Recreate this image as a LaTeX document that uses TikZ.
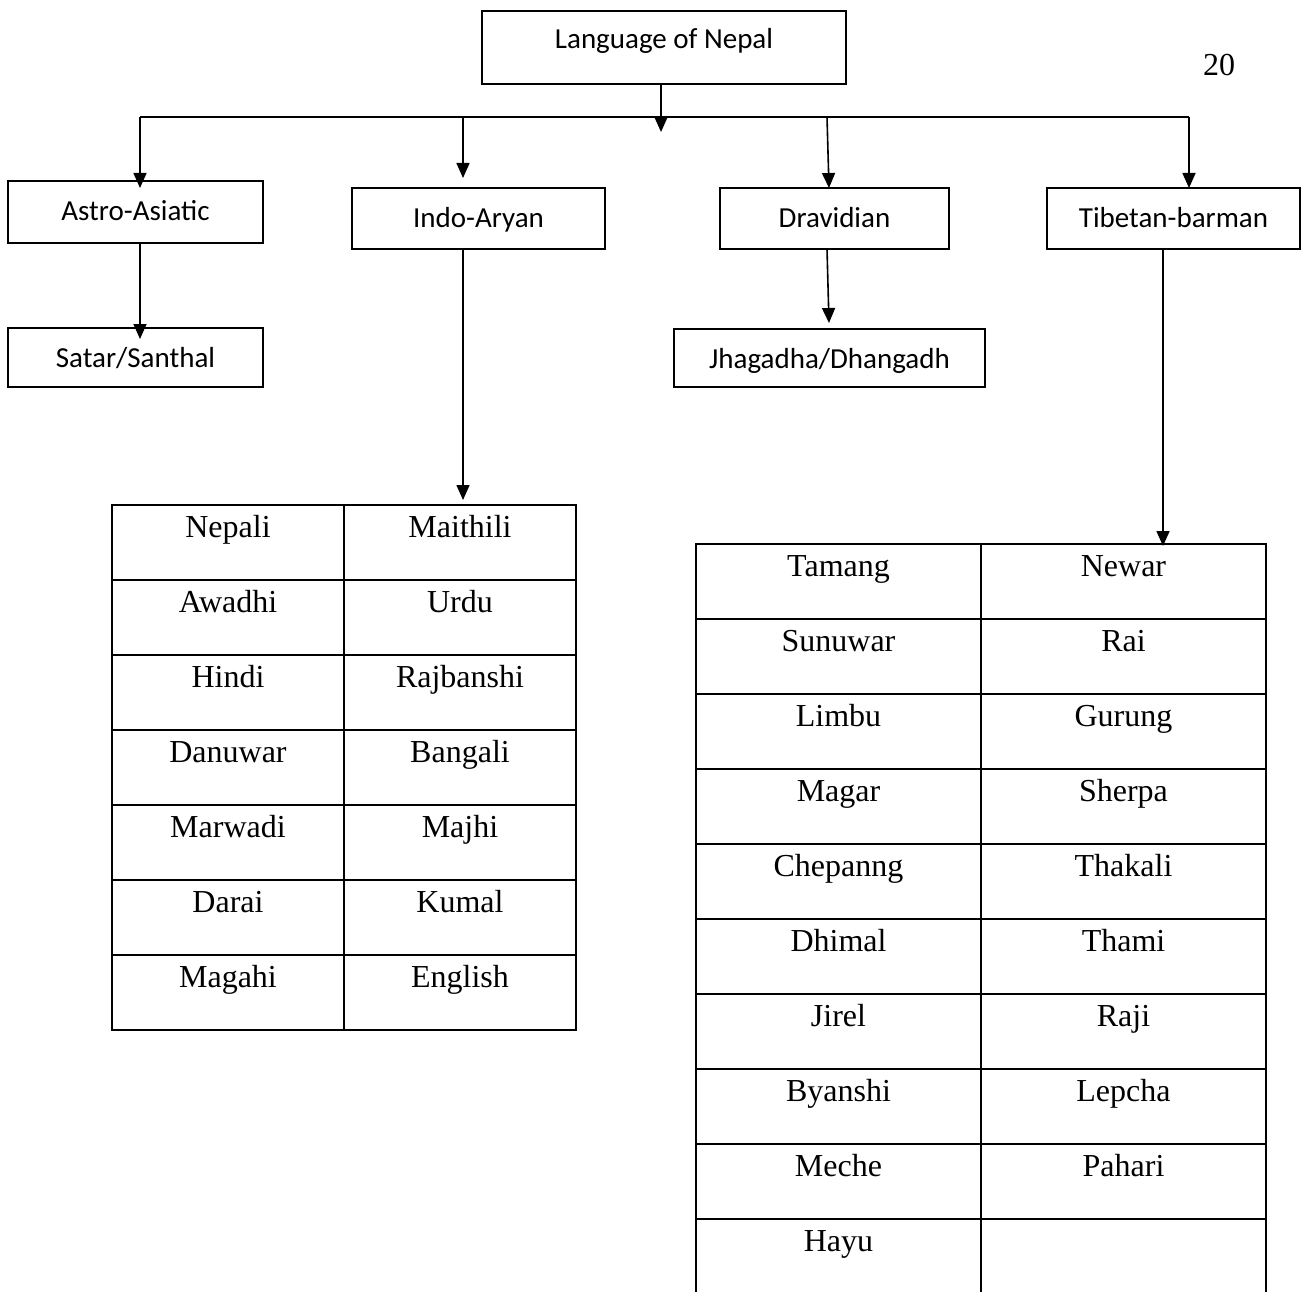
\documentclass[tikz,border=0pt]{standalone}
\usepackage{fontspec}
\setmainfont{Liberation Serif}
\newfontfamily\calfont{Carlito}
\usetikzlibrary{arrows.meta}
\begin{document}
\begin{tikzpicture}[x=1pt,y=-1pt,
  box/.style={draw, line width=1.6pt, rectangle, inner sep=0pt, text height=20pt,
    font=\calfont\fontsize{29}{33}\selectfont},
  conn/.style={line width=1.6pt},
  arr/.style={line width=1.6pt, -{Triangle[length=15pt,width=13pt]}},
  cellbox/.style={draw, line width=1.3pt, rectangle, inner sep=0pt, minimum height=75pt},
  celltext/.style={font=\fontsize{32}{36}\selectfont, anchor=base, inner sep=0pt}
]
\useasboundingbox (0,0) rectangle (1303,1292);
\fill[white] (0,0) rectangle (1303,1292);

% top boxes
\node[box, text depth=17pt, minimum width=364pt, minimum height=73pt] (lang) at (664,47.5) {Language of Nepal};
\node[box, text depth=4pt, minimum width=255pt, minimum height=62pt] (astro) at (135.5,212) {Astro-Asiatic};
\node[box, text depth=3pt, minimum width=253pt, minimum height=61pt] (indo) at (478.5,218.5) {Indo-Aryan};
\node[box, text depth=3pt, minimum width=229pt, minimum height=61pt] (drav) at (834.5,218.5) {Dravidian};
\node[box, text depth=3pt, minimum width=253pt, minimum height=61pt] (tib) at (1173.5,218.5) {Tibetan-barman};
\node[box, text depth=0pt, minimum width=255pt, minimum height=59pt] (satar) at (135.5,357.5) {Satar/Santhal};
\node[box, text depth=0pt, minimum width=311pt, minimum height=58pt] (jhag) at (829.5,358) {Jhagadha/Dhangadh};

\node[font=\fontsize{32}{36}\selectfont, anchor=base, inner sep=0pt] (pagenum) at (1219,76) {20};

% connector coordinates
\coordinate (hub) at (661,117);
\coordinate (hubend) at (661,132);
\coordinate (busL) at (140,117);
\coordinate (busI) at (463,117);
\coordinate (busD) at (827,117);
\coordinate (busR) at (1189,117);
\coordinate (astroEnd) at (140,188);
\coordinate (indoEnd) at (463,178);
\coordinate (dravEnd) at (829,188);
\coordinate (tibEnd) at (1189,188);
\coordinate (astroOut) at (140,243);
\coordinate (satarEnd) at (140,339);
\coordinate (indoOut) at (463,249);
\coordinate (indoTabEnd) at (463,500);
\coordinate (dravOut) at (827,249);
\coordinate (jhagEnd) at (829,323);
\coordinate (tibOut) at (1163,249);
\coordinate (tibTabEnd) at (1163,546);

\draw[conn] (busL) -- (busR);
\draw[arr] (lang.south -| hub) -- (hubend);
\draw[arr] (busL) -- (astroEnd);
\draw[arr] (busI) -- (indoEnd);
\draw[arr] (busD) -- (dravEnd);
\draw[arr] (busR) -- (tibEnd);
\draw[arr] (astroOut) -- (satarEnd);
\draw[arr] (indoOut) -- (indoTabEnd);
\draw[arr] (dravOut) -- (jhagEnd);
\draw[arr] (tibOut) -- (tibTabEnd);

% left table
\foreach \r/\a/\b in {0/Nepali/Maithili, 1/Awadhi/Urdu, 2/Hindi/Rajbanshi, 3/Danuwar/Bangali, 4/Marwadi/Majhi, 5/Darai/Kumal, 6/Magahi/English}{
  \node[cellbox, minimum width=232pt] (La\r) at (228,542.5+75*\r) {};
  \node[cellbox, minimum width=232pt] (Lb\r) at (460,542.5+75*\r) {};
  \node[celltext] (LTa\r) at (228,537+75*\r) {\a};
  \node[celltext] (LTb\r) at (460,537+75*\r) {\b};
}

% right table
\foreach \r/\a/\b in {0/Tamang/Newar, 1/Sunuwar/Rai, 2/Limbu/Gurung, 3/Magar/Sherpa, 4/Chepanng/Thakali, 5/Dhimal/Thami, 6/Jirel/Raji, 7/Byanshi/Lepcha, 8/Meche/Pahari, 9/Hayu/{}}{
  \node[cellbox, minimum width=285pt] (Ra\r) at (838.5,581.5+75*\r) {};
  \node[cellbox, minimum width=285pt] (Rb\r) at (1123.5,581.5+75*\r) {};
  \node[celltext] (RTa\r) at (838.5,576+75*\r) {\a};
  \node[celltext] (RTb\r) at (1123.5,576+75*\r) {\b};
}
\end{tikzpicture}
\end{document}
